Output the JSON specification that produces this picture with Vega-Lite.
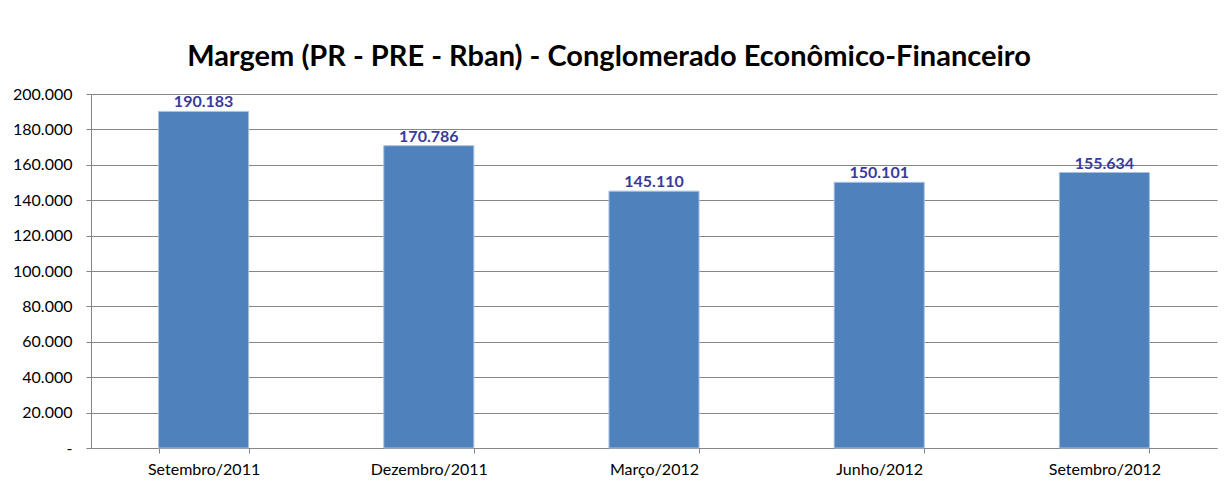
{
  "$schema": "https://vega.github.io/schema/vega-lite/v6.json",
  "width": 1126,
  "height": 354,
  "autosize": {"type": "none"},
  "padding": {"left": 91, "top": 94, "right": 7, "bottom": 36},
  "background": "white",
  "config": {
    "locale": {"number": {"decimal": ",", "thousands": ".", "grouping": [3], "currency": ["R$", ""]}},
    "view": {"stroke": null},
    "font": "Lato"
  },
  "title": {
    "text": "Margem (PR - PRE - Rban) - Conglomerado Econômico-Financeiro",
    "font": "Lato",
    "fontSize": 29,
    "fontWeight": "bold",
    "color": "#000000",
    "anchor": "middle",
    "dx": -45,
    "offset": 14
  },
  "data": {
    "values": [
      {"periodo": "Setembro/2011", "valor": 190183},
      {"periodo": "Dezembro/2011", "valor": 170786},
      {"periodo": "Março/2012", "valor": 145110},
      {"periodo": "Junho/2012", "valor": 150101},
      {"periodo": "Setembro/2012", "valor": 155634}
    ]
  },
  "encoding": {
    "x": {
      "field": "periodo",
      "type": "nominal",
      "sort": null,
      "scale": {"paddingInner": 0.6, "paddingOuter": 0.3},
      "axis": {
        "title": null,
        "labelAngle": 0,
        "labelFont": "Lato",
        "labelFontSize": 16,
        "labelColor": "#000000",
        "labelPadding": 8,
        "tickBand": "extent",
        "tickSize": 5,
        "tickColor": "#868686",
        "domainColor": "#868686",
        "grid": false
      }
    },
    "y": {
      "field": "valor",
      "type": "quantitative",
      "scale": {"domain": [0, 200000], "nice": false},
      "axis": {
        "title": null,
        "values": [0, 20000, 40000, 60000, 80000, 100000, 120000, 140000, 160000, 180000, 200000],
        "labelExpr": "datum.value == 0 ? '-' : format(datum.value, ',.0f')",
        "labelFont": "Lato",
        "labelFontSize": 16,
        "labelColor": "#000000",
        "labelPadding": 14,
        "tickSize": 5,
        "tickColor": "#868686",
        "domainColor": "#868686",
        "gridColor": "#868686",
        "gridWidth": 1
      }
    }
  },
  "layer": [
    {
      "mark": {"type": "bar", "color": "#4F81BD", "stroke": "#A9C2E0", "strokeWidth": 1}
    },
    {
      "mark": {"type": "text", "baseline": "bottom", "dy": -1, "font": "Lato", "fontSize": 16, "fontWeight": "bold", "color": "#3A3A9C"},
      "encoding": {
        "text": {"field": "valor", "type": "quantitative", "format": ",.0f"}
      }
    }
  ]
}
